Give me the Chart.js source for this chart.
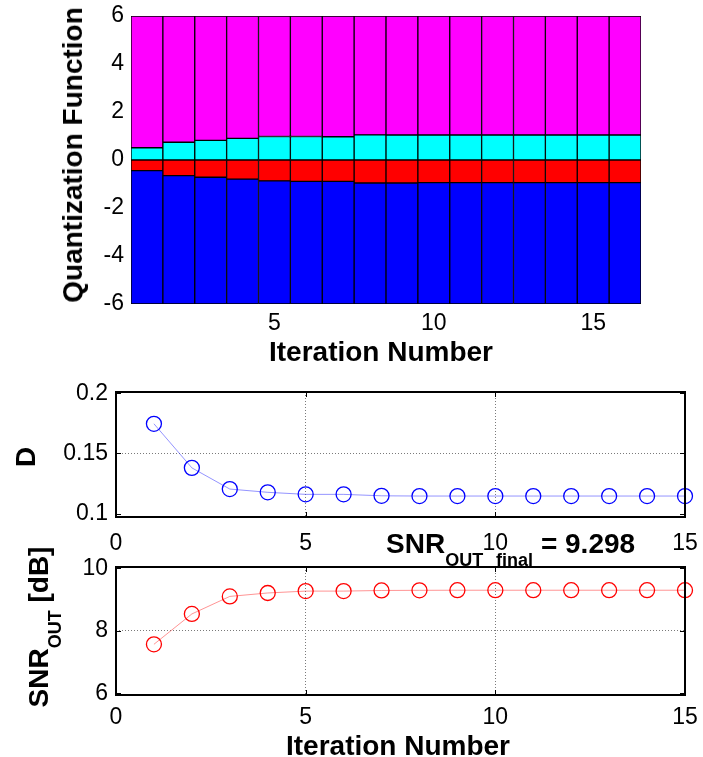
<!DOCTYPE html>
<html>
<head>
<meta charset="utf-8">
<title>Quantizer iterations</title>
<script src="https://cdn.jsdelivr.net/npm/chart.js@4.4.1/dist/chart.umd.min.js"></script>
<style>
  body { margin: 0; background: #fff; }
  #fig { position: relative; width: 703px; height: 757px; overflow: hidden;
         font-family: "Liberation Sans", Arial, Helvetica, sans-serif; color: #000; }
  #fig canvas { position: absolute; left: 0; }
  .lbl { position: absolute; font-weight: bold; font-size: 28px; line-height: 1;
         white-space: nowrap; transform: translate(-50%, -50%); }
  .rot { transform: translate(-50%, -50%) rotate(-90deg); }
  .lbl sub { font-size: 18px; vertical-align: baseline; position: relative; top: 0.72em; }
  #snrTitle { transform: none; }
  #snrTitle sub { word-spacing: 8px; }
</style>
</head>
<body>
<div id="fig">
  <canvas id="quantChart" width="703" height="370" style="top:0"></canvas>
  <canvas id="distChart" width="703" height="185" style="top:370px"></canvas>
  <canvas id="snrChart" width="703" height="202" style="top:555px"></canvas>

  <div class="lbl rot" style="left:73px; top:155px">Quantization Function</div>
  <div class="lbl" style="left:381px; top:352px">Iteration Number</div>
  <div class="lbl rot" style="left:26px; top:457px">D</div>
  <div class="lbl" id="snrTitle" style="left:386px; top:530px">SNR<sub>OUT final</sub> = 9.298</div>
  <div class="lbl rot" style="left:39px; top:627px">SNR<sub>OUT</sub> [dB]</div>
  <div class="lbl" style="left:398px; top:746px">Iteration Number</div>
</div>

<script>
// --- quantizer thresholds per iteration (stacked bar panel) ---
const barLabels = ['1', '2', '3', '4', '5', '6', '7', '8', '9', '10', '11', '12', '13', '14', '15', '16'];
const upperThreshold = [0.51, 0.74, 0.82, 0.90, 0.98, 0.98, 0.97, 1.05, 1.04, 1.04, 1.04, 1.04, 1.04, 1.04, 1.04, 1.04];
const lowerThreshold = [-0.44, -0.65, -0.72, -0.80, -0.87, -0.89, -0.89, -0.96, -0.96, -0.94, -0.94, -0.94, -0.94, -0.94, -0.94, -0.94];
const rangeLimit = 6;
const quantTicks = [-6, -4, -2, 0, 2, 4, 6];
const barTickLabels = ['5', '10', '15'];

// --- distortion and output SNR per iteration ---
const iterations = [1, 2, 3, 4, 5, 6, 7, 8, 9, 10, 11, 12, 13, 14, 15];
const distortion = [0.1746, 0.1380, 0.1204, 0.1177, 0.1160, 0.1160, 0.1148, 0.1146, 0.1146, 0.1146, 0.1146, 0.1146, 0.1146, 0.1146, 0.1146];
const snrOut = [7.57, 8.54, 9.10, 9.21, 9.27, 9.27, 9.29, 9.295, 9.298, 9.298, 9.298, 9.298, 9.298, 9.298, 9.298];
const iterTicks = [0, 5, 10, 15];
const distTicks = [0.1, 0.15, 0.2];
const snrTicks = [6, 8, 10];

Chart.defaults.font.family = '"Liberation Sans", Arial, Helvetica, sans-serif';
Chart.defaults.font.size = 23;
Chart.defaults.color = '#000';
Chart.defaults.animation = false;

// box around the plot area plus short inward tick marks on every side
const framePlugin = {
  id: 'frame',
  afterDraw(chart, args, opts) {
    if (!opts.show) return;
    const { ctx, chartArea: a, scales: { x, y } } = chart;
    const len = 5;
    ctx.save();
    ctx.strokeStyle = '#000';
    ctx.lineWidth = 1;
    ctx.beginPath();
    x.ticks.forEach(t => {
      const px = Math.round(x.getPixelForValue(t.value)) + 0.5;
      ctx.moveTo(px, a.bottom); ctx.lineTo(px, a.bottom - len);
      ctx.moveTo(px, a.top); ctx.lineTo(px, a.top + len);
    });
    y.ticks.forEach(t => {
      const py = Math.round(y.getPixelForValue(t.value)) + 0.5;
      ctx.moveTo(a.left, py); ctx.lineTo(a.left + len, py);
      ctx.moveTo(a.right, py); ctx.lineTo(a.right - len, py);
    });
    ctx.stroke();
    ctx.lineWidth = 2;
    ctx.strokeRect(a.left, a.top, a.right - a.left, a.bottom - a.top);
    ctx.restore();
  }
};

const fixedTicks = list => scale => { scale.ticks = list.map(v => ({ value: v })); };

// keep the plot area exactly where the layout padding puts it
const fitX = h => s => { s.height = h; s.paddingLeft = 0; s.paddingRight = 0; };
const fitY = w => s => { s.width = w; s.paddingTop = 0; s.paddingBottom = 0; };

// dotted grid only on inner ticks
const innerGrid = c => (c.index > 0 && c.index < c.scale.ticks.length - 1) ? '#7a7a7a' : 'rgba(0,0,0,0)';

// --- top panel: quantization regions as floating bars ---
const floatBars = (data, color) => ({
  data,
  backgroundColor: color,
  borderColor: '#000',
  borderWidth: 1,
  borderSkipped: false,
  grouped: false,
  barPercentage: 1,
  categoryPercentage: 1
});

new Chart(document.getElementById('quantChart'), {
  type: 'bar',
  data: {
    labels: barLabels,
    datasets: [
      floatBars(lowerThreshold.map(v => [-rangeLimit, v]), '#0000ff'),
      floatBars(lowerThreshold.map(v => [v, 0]), '#ff0000'),
      floatBars(upperThreshold.map(v => [0, v]), '#00ffff'),
      floatBars(upperThreshold.map(v => [v, rangeLimit]), '#ff00ff')
    ]
  },
  options: {
    responsive: false,
    layout: { padding: { left: 0, top: 16, right: 62, bottom: 0 } },
    plugins: { legend: { display: false }, tooltip: { enabled: false } },
    scales: {
      x: {
        grid: { display: false, drawTicks: false },
        border: { display: false },
        ticks: {
          autoSkip: false, maxRotation: 0, padding: 6,
          callback: (v, i) => barTickLabels.includes(barLabels[i]) ? barLabels[i] : ''
        },
        afterFit: fitX(66)
      },
      y: {
        min: -rangeLimit, max: rangeLimit,
        grid: { display: false, drawTicks: false },
        border: { display: false },
        ticks: { padding: 7, callback: v => String(v) },
        afterBuildTicks: fixedTicks(quantTicks),
        afterFit: fitY(131)
      }
    }
  }
});

// --- shared setup for the two line panels ---
function linePanel(canvasId, values, color, lineColor, yMin, yMax, yTicks, xPad, topPad, xHeight) {
  return new Chart(document.getElementById(canvasId), {
    type: 'line',
    data: {
      datasets: [{
        data: iterations.map((it, i) => ({ x: it, y: values[i] })),
        borderColor: lineColor,
        borderWidth: 1,
        pointRadius: 7.5,
        pointBorderWidth: 1.3,
        pointBorderColor: color,
        pointBackgroundColor: 'rgba(0,0,0,0)',
        tension: 0,
        clip: false
      }]
    },
    plugins: [framePlugin],
    options: {
      responsive: false,
      layout: { padding: { left: 0, top: topPad, right: 18, bottom: 0 } },
      plugins: { legend: { display: false }, tooltip: { enabled: false }, frame: { show: true } },
      scales: {
        x: {
          type: 'linear', min: 0, max: 15,
          grid: { color: innerGrid, drawTicks: false, lineWidth: 1 },
          border: { display: false, dash: [1, 2] },
          ticks: { padding: xPad, maxRotation: 0, callback: v => String(v) },
          afterBuildTicks: fixedTicks(iterTicks),
          afterFit: fitX(xHeight)
        },
        y: {
          min: yMin, max: yMax,
          grid: { color: innerGrid, drawTicks: false, lineWidth: 1 },
          border: { display: false, dash: [1, 2] },
          ticks: { padding: 8, callback: v => String(v) },
          afterBuildTicks: fixedTicks(yTicks),
          afterFit: fitY(116)
        }
      }
    }
  });
}

linePanel('distChart', distortion, '#0000ff', 'rgba(60,60,255,0.55)', 0.0972, 0.201, distTicks, 13, 22, 38);
linePanel('snrChart', snrOut, '#ff0000', 'rgba(255,60,60,0.55)', 5.95, 10.04, snrTicks, 9, 12, 62);
</script>
</body>
</html>
